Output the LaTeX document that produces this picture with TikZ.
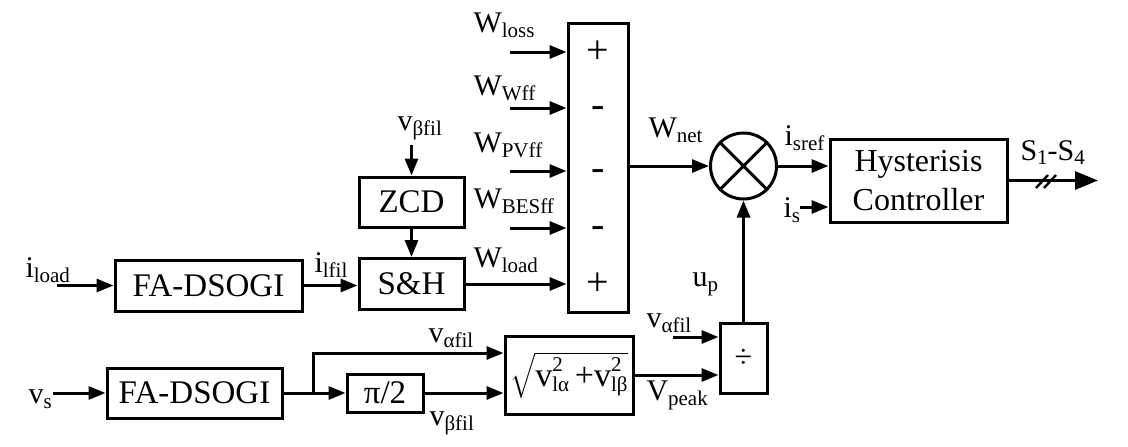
\RequirePackage{fix-cm}
\documentclass[tikz,border=0pt]{standalone}
\usepackage{amsmath}
\usepackage{fontspec}
\setmainfont{Liberation Serif}
\usetikzlibrary{arrows.meta}
\newcommand{\lbl}[2]{#1\raisebox{-5pt}{\fontsize{21}{22}\selectfont #2}}
\newcommand{\smallfs}{\fontsize{21}{21}\selectfont}
\newcommand{\vsq}[1]{v\rlap{\raisebox{15pt}{\smallfs 2}}\raisebox{-5pt}{\smallfs #1}}
\begin{document}
\begin{tikzpicture}[x=1pt,y=-1pt,line width=3pt,
  >={Triangle[length=17pt,width=13pt]},
  font=\fontsize{30}{32}\selectfont,
  blk/.style={draw,inner sep=0pt,font=\fontsize{33}{35}\selectfont},
  lab/.style={anchor=base west,inner sep=0pt},
  sgn/.style={inner sep=0pt,font=\fontsize{40}{40}\selectfont}]
\useasboundingbox (0,0) rectangle (1128,447);
% blocks
\node[blk,minimum width=187pt,minimum height=51pt] (fa1) at (208.5,285.5) {FA-DSOGI};
\node[blk,minimum width=105pt,minimum height=50pt] (zcd) at (411.5,202) {ZCD};
\node[blk,minimum width=105pt,minimum height=51pt] (sh) at (411.5,284) {S\&H};
\node[blk,minimum width=60pt,minimum height=289pt] (sum) at (598,167.5) {};
\node[draw,circle,minimum size=66pt,inner sep=0pt] (mul) at (743.5,166) {};
\draw (mul.45)--(mul.225) (mul.135)--(mul.315);
\node[blk,minimum width=177pt,minimum height=83pt,align=center,font=\fontsize{32}{39}\selectfont] (hyst) at (918.5,180.5) {Hysterisis\\Controller};
\node[blk,minimum width=47pt,minimum height=70pt,font=\fontsize{32}{34}\selectfont] (div) at (743.5,358) {÷};
\node[blk,minimum width=128pt,minimum height=78pt,font=\fontsize{34}{36}\selectfont] (sqrtb) at (569,375) {$\sqrt{\text{\vsq{lα}\,+\vsq{lβ}}}$};
\node[blk,minimum width=175pt,minimum height=50pt] (fa2) at (194.5,393) {FA-DSOGI};
\node[blk,minimum width=76pt,minimum height=38pt] (pi) at (385,393) {π/2};
% free ends
\coordinate (iload) at (57,285.5);
\coordinate (vbin) at (411.5,145);
\coordinate (w1) at (510,52);
\coordinate (w2) at (510,108);
\coordinate (w3) at (510,171);
\coordinate (w4) at (510,228);
\coordinate (isin) at (800,207);
\coordinate (out) at (1098,180.5);
\coordinate (vain) at (673,337);
\coordinate (vsin) at (53,393);
\coordinate (br) at (313,393);
\coordinate (brup) at (313,353);
% connectors
\draw[->] (iload) -- (fa1.west);
\draw[->] (fa1.east) -- (fa1.east -| sh.west);
\draw[->] (vbin) -- (zcd.north);
\draw[->] (zcd.south) -- (sh.north);
\draw[->] (w1) -- (w1 -| sum.west);
\draw[->] (w2) -- (w2 -| sum.west);
\draw[->] (w3) -- (w3 -| sum.west);
\draw[->] (w4) -- (w4 -| sum.west);
\draw[->] (sh.east) -- (sh.east -| sum.west);
\draw[->] (sum.east |- mul.west) -- (mul.west);
\draw[->] (mul.east) -- (mul.east -| hyst.west);
\draw[->] (isin) -- (isin -| hyst.west);
\draw[-{Triangle[length=23pt,width=18pt]}] (hyst.east) -- (out);
\draw[line width=2.4pt] (1036,188) -- (1048,175) (1044,188) -- (1056,175);
\draw[->] (div.north) -- (mul.south);
\draw[->] (vain) -- (vain -| div.west);
\draw[->] (sqrtb.east) -- (sqrtb.east -| div.west);
\draw[->] (vsin) -- (fa2.west);
\draw (fa2.east) -- (br);
\draw[->] (br) -- (pi.west);
\draw[->] (br) -- (brup) -- (brup -| sqrtb.west);
\draw[->] (pi.east) -- (pi.east -| sqrtb.west);
% signs
\node[sgn] (s1) at (w1 -| sum.center) {+};
\node[sgn] (s2) at ([yshift=-4pt]w2 -| sum.center) {-};
\node[sgn] (s3) at ([yshift=-4pt]w3 -| sum.center) {-};
\node[sgn] (s4) at ([yshift=-4pt]w4 -| sum.center) {-};
\node[sgn] (s5) at (sh.east -| sum.center) {+};
% labels
\node[lab] (lload) at (24,277) {\lbl{i}{load}};
\node[lab] (llfil) at (313,272) {\lbl{i}{lfil}};
\node[lab] (lvb1) at (396,130) {\lbl{v}{βfil}};
\node[lab] (lwloss) at (472,32) {\lbl{W}{loss}};
\node[lab] (lwwff) at (472,95) {\lbl{W}{Wff}};
\node[lab] (lwpv) at (472,152) {\lbl{W}{PVff}};
\node[lab] (lwbes) at (472,208) {\lbl{W}{BESff}};
\node[lab] (lwload) at (472,267) {\lbl{W}{load}};
\node[lab] (lnet) at (647,137) {\lbl{W}{net}};
\node[lab] (lsref) at (783,145) {\lbl{i}{sref}};
\node[lab] (lis) at (782,217) {\lbl{i}{s}};
\node[lab] (lss) at (1019,160) {S\raisebox{-4pt}{\fontsize{21}{22}\selectfont 1}-S\raisebox{-4pt}{\fontsize{21}{22}\selectfont 4}};
\node[lab] (lup) at (691,286) {\lbl{u}{p}};
\node[lab] (lva2) at (645,327) {\lbl{v}{αfil}};
\node[lab] (lvpk) at (645,400) {\lbl{V}{peak}};
\node[lab] (lva1) at (427,342) {\lbl{v}{αfil}};
\node[lab] (lvb2) at (428,425) {\lbl{v}{βfil}};
\node[lab] (lvs) at (27,403) {\lbl{v}{s}};
\end{tikzpicture}
\end{document}
